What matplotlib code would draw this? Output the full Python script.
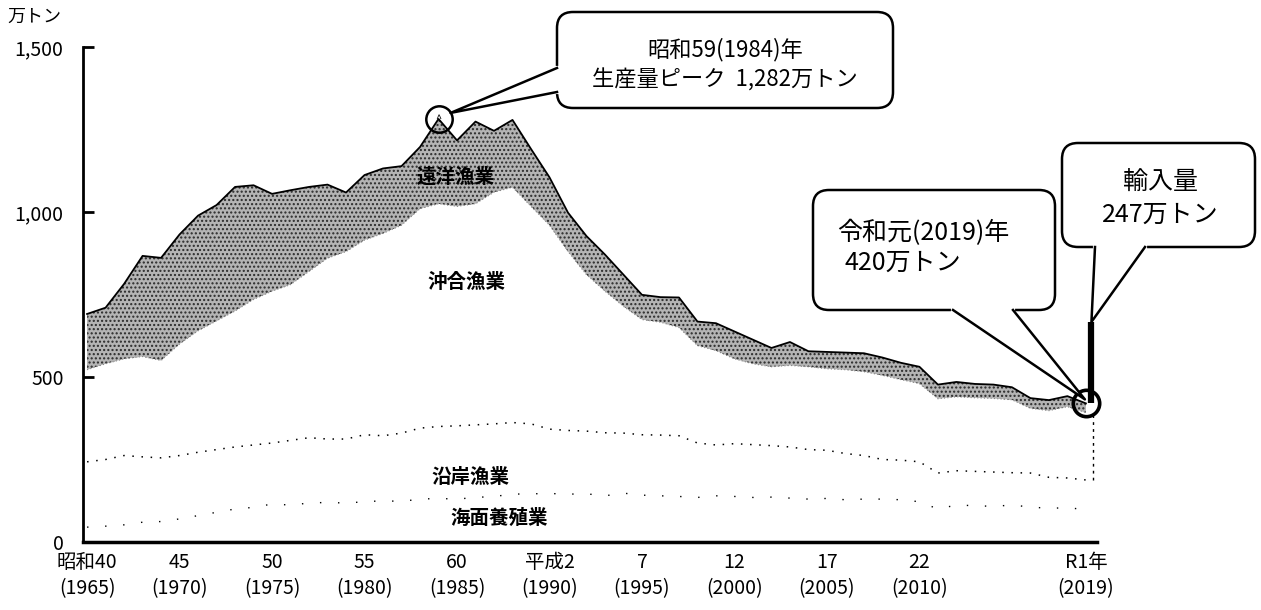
import numpy as np
import matplotlib.pyplot as plt
from matplotlib.patches import FancyBboxPatch, Polygon
from matplotlib.lines import Line2D
from matplotlib.transforms import IdentityTransform

plt.rcParams['font.family'] = ['Noto Sans CJK JP', 'DejaVu Sans']
plt.rcParams['hatch.linewidth'] = 1.0

# 万トン, 1965-2019
years = np.arange(1965, 2020)
aquaculture = [45, 48, 52, 60, 62, 70, 80, 90, 100, 105,
               115, 112, 118, 120, 118, 122, 125, 123, 130, 132,
               130, 135, 138, 145, 146, 147, 145, 146, 140, 148,
               142, 140, 138, 135, 140, 138, 135, 136, 133, 130,
               132, 128, 130, 130, 128, 122, 100, 112, 110, 108,
               112, 106, 102, 104, 98]
coastal = [198, 202, 210, 198, 193, 192, 192, 190, 188, 189,
           185, 196, 198, 192, 194, 203, 197, 207, 215, 218,
           222, 220, 220, 217, 212, 195, 193, 190, 191, 182,
           183, 184, 184, 165, 154, 160, 160, 156, 155, 150,
           146, 140, 132, 120, 120, 121, 109, 104, 104, 104,
           98, 103, 94, 90, 90]
offshore = [279, 290, 293, 304, 295, 338, 368, 390, 412, 441,
            460, 472, 504, 548, 568, 590, 613, 630, 665, 675,
            665, 670, 702, 713, 659, 618, 542, 474, 429, 384,
            349, 342, 328, 295, 286, 257, 245, 239, 247, 251,
            247, 254, 254, 255, 244, 237, 225, 224, 223, 223,
            221, 196, 202, 216, 204]
distant = [169, 170, 227, 305, 311, 332, 349, 351, 376, 346,
           295, 286, 256, 223, 179, 197, 197, 179, 187, 257,
           200, 249, 186, 204, 174, 145, 118, 117, 111, 96,
           75, 76, 91, 73, 83, 83, 73, 57, 71, 47,
           51, 52, 56, 54, 51, 51, 43, 45, 42, 42,
           38, 31, 32, 32, 28]
import_2019 = 247
peak_year, peak_value = 1984, 1282
last_year, last_value = 2019, 420

tick_years = [1965, 1970, 1975, 1980, 1985, 1990, 1995, 2000, 2005, 2010, 2019]
tick_labels = ['昭和40\n(1965)', '45\n(1970)', '50\n(1975)', '55\n(1980)', '60\n(1985)',
               '平成2\n(1990)', '7\n(1995)', '12\n(2000)', '17\n(2005)', '22\n(2010)',
               'R1年\n(2019)']
y_ticks = [0, 500, 1000, 1500]
y_labels = ['0', '500', '1,000', '1,500']

W, H = 1261, 610
fig = plt.figure(figsize=(W / 100, H / 100), dpi=100)
ax = fig.add_axes([83 / W, (H - 542) / H, (1097 - 83) / W, (542 - 47) / H])

b1 = np.array(aquaculture)
b2 = b1 + np.array(coastal)
b3 = b2 + np.array(offshore)
top = b3 + np.array(distant)

ax.fill_between(years, 0, b3, color='white', lw=0)
ax.fill_between(years, b3, top, facecolor='#b4b4b4', hatch='....',
                edgecolor='#2a2a2a', linewidth=0)
ax.plot(years, top, color='k', lw=1.3)
ax.plot(years, b3, color='#888888', lw=0.8, ls=(0, (1, 2)))
ax.plot(years, b2, color='k', lw=1.1, ls=(0, (1, 5)))
ax.plot(years, b1, color='k', lw=1.0, ls=(0, (1, 12)))
ax.plot([years[-1] + 0.4] * 2, [b2[-1], b3[-1]], color='k', lw=1.0, ls=(0, (2, 3)))

ax.text(1984.9, 1105, '遠洋漁業', fontsize=14, fontweight='bold', ha='center', va='center')
ax.text(1985.5, 786, '沖合漁業', fontsize=14, fontweight='bold', ha='center', va='center')
ax.text(1985.7, 197, '沿岸漁業', fontsize=14, fontweight='bold', ha='center', va='center')
ax.text(1987.3, 73, '海面養殖業', fontsize=14, fontweight='bold', ha='center', va='center')

# circles and import bar
ax.plot(peak_year, peak_value, 'o', ms=19, mfc='none', mec='k', mew=1.8, clip_on=False, zorder=7)
ax.text(peak_year, peak_value, '^', fontsize=8, ha='center', va='center', zorder=7)
ax.plot(last_year, last_value, 'o', ms=19, mfc='none', mec='k', mew=2.6, clip_on=False, zorder=7)
ax.plot([last_year + 0.3] * 2, [last_value, last_value + import_2019], color='k', lw=4.5,
        solid_capstyle='butt', clip_on=False, zorder=7)

ax.set_xlim(1964.78, 2019.6)
ax.set_ylim(0, 1500)
for s in ['top', 'right']:
    ax.spines[s].set_visible(False)
ax.spines['left'].set_linewidth(2)
ax.spines['bottom'].set_linewidth(2.5)
ax.set_yticks(y_ticks)
ax.set_yticklabels(y_labels, fontsize=14)
ax.tick_params(axis='y', direction='in', length=8, width=2, pad=14)
ax.set_xticks(tick_years)
ax.set_xticklabels(tick_labels, fontsize=14)
ax.tick_params(axis='x', length=0, pad=7)
for lbl in ax.get_xticklabels():
    lbl.set_linespacing(1.35)

fig.text(34 / W, 1 - 17 / H, '万トン', fontsize=13, ha='center', va='center')

ident = IdentityTransform()


def callout(x0, y0, x1, y1, base1, base2, tip):
    box = FancyBboxPatch((x0, H - y1), x1 - x0, y1 - y0,
                         boxstyle='round,pad=0,rounding_size=16', transform=ident,
                         fc='white', ec='k', lw=1.8, zorder=5)
    fig.add_artist(box)
    pts = [(base1[0], H - base1[1]), tip, (base2[0], H - base2[1])]
    fig.add_artist(Polygon(pts, closed=True, transform=ident, fc='white', ec='none', zorder=6))
    fig.add_artist(Line2D([pts[0][0], pts[2][0]], [pts[0][1], pts[2][1]], transform=ident,
                          color='white', lw=3, zorder=6))
    fig.add_artist(Line2D([p[0] for p in pts], [p[1] for p in pts], transform=ident,
                          color='k', lw=1.8, zorder=7))


fig.canvas.draw()
peak_px = ax.transData.transform((peak_year, peak_value))
last_px = ax.transData.transform((last_year, last_value))
imp_px = ax.transData.transform((last_year + 0.3, last_value + import_2019))

callout(557, 12, 893, 108, (557, 68), (557, 92), (peak_px[0] + 12, peak_px[1] + 6))
callout(813, 190, 1055, 310, (953, 310), (1013, 310), (last_px[0] - 1, last_px[1] + 4))
callout(1062, 143, 1255, 247, (1095, 247), (1145, 247), (imp_px[0], imp_px[1]))

fig.text(725 / W, 1 - 50 / H, f'昭和59({peak_year})年', fontsize=16, ha='center', va='center', zorder=8)
fig.text(725 / W, 1 - 80 / H, f'生産量ピーク  {peak_value:,}万トン', fontsize=16, ha='center',
         va='center', zorder=8)
fig.text(837 / W, 1 - 233 / H, f'令和元({last_year})年', fontsize=18, ha='left', va='center', zorder=8)
fig.text(845 / W, 1 - 263 / H, f'{last_value}万トン', fontsize=18, ha='left', va='center', zorder=8)
fig.text(1160 / W, 1 - 183 / H, '輸入量', fontsize=18, ha='center', va='center', zorder=8)
fig.text(1160 / W, 1 - 215 / H, f'{import_2019}万トン', fontsize=18, ha='center', va='center', zorder=8)

fig.savefig('out.png', dpi=100)
